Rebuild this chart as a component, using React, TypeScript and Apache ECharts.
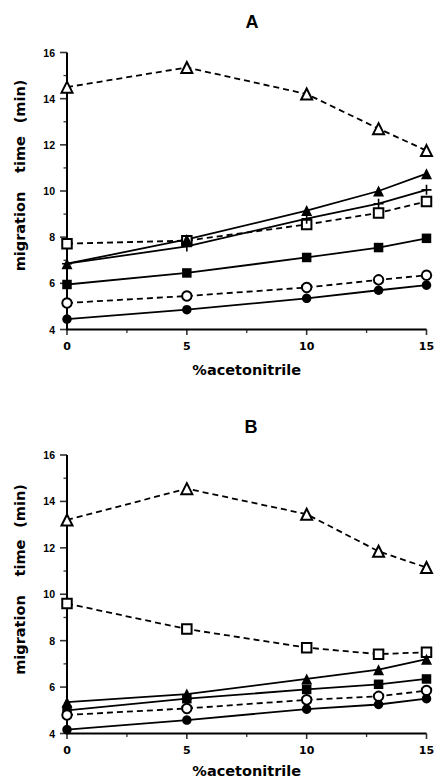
import React, { useEffect, useRef } from "react";
import * as echarts from "echarts";

const acetonitrile = [0, 5, 10, 13, 15];

// Panel A
const openTriA = [14.5, 15.35, 14.2, 12.7, 11.75];
const filledTriA = [6.85, 7.9, 9.15, 10.0, 10.75];
const plusA = [6.85, 7.6, 8.8, 9.45, 10.05];
const openSqA = [7.72, 7.85, 8.55, 9.05, 9.55];
const filledSqA = [5.95, 6.45, 7.12, 7.55, 7.95];
const openCircA = [5.15, 5.45, 5.82, 6.15, 6.35];
const filledCircA = [4.45, 4.86, 5.35, 5.7, 5.92];

// Panel B
const openTriB = [13.2, 14.55, 13.45, 11.85, 11.15];
const openSqB = [9.6, 8.5, 7.7, 7.42, 7.5];
const filledTriB = [5.35, 5.7, 6.35, 6.75, 7.2];
const filledSqB = [5.0, 5.5, 5.9, 6.12, 6.35];
const openCircB = [4.8, 5.08, 5.45, 5.6, 5.85];
const filledCircB = [4.17, 4.58, 5.05, 5.25, 5.5];

// Axis ticks
const xTicks = [0, 5, 10, 15];
const xMinorTicks = [2.5, 7.5, 12.5];
const yTicks = [4, 6, 8, 10, 12, 14, 16];
const yMinorTicks = [5, 7, 9, 11, 13, 15];
const xRange = [0, 15];
const yRange = [4, 16];

const panelTitles = ["A", "B"];
const xTitle = "%acetonitrile";
const yTitleWords = ["migration", "time", "(min)"];

const PLUS = "path://M4.2,0H5.8V4.2H10V5.8H5.8V10H4.2V5.8H0V4.2H4.2Z";

type Kind = "openTri" | "filledTri" | "plus" | "openSq" | "filledSq" | "openCirc" | "filledCirc";

function makeSeries(kind: Kind, values: number[], idx: number) {
  const dashed = kind === "openTri" || kind === "openSq" || kind === "openCirc";
  let symbol = "circle";
  let size = 9.5;
  if (kind === "openTri" || kind === "filledTri") { symbol = "triangle"; size = 11; }
  if (kind === "openSq" || kind === "filledSq") { symbol = "rect"; size = 9.5; }
  if (kind === "plus") { symbol = PLUS; size = 10; }
  return {
    type: "line",
    xAxisIndex: idx,
    yAxisIndex: idx,
    data: acetonitrile.map((x, i) => [x, values[i]]),
    symbol,
    symbolSize: size,
    silent: true,
    lineStyle: { color: "#000", width: 1.8, type: dashed ? [6, 4] : "solid" },
    itemStyle: dashed
      ? { color: "#fff", borderColor: "#000", borderWidth: 2 }
      : { color: "#000" },
  };
}

// Axis frame drawn through the axes' own scales
function axisSeries(idx: number) {
  const base = { xAxisIndex: idx, yAxisIndex: idx, silent: true, clip: false };
  return [
    {
      ...base,
      type: "line",
      data: [[xRange[0], yRange[1]], [xRange[0], yRange[0]], [xRange[1], yRange[0]]],
      symbol: "none",
      lineStyle: { color: "#000", width: 2 },
    },
    {
      ...base,
      type: "scatter",
      data: yTicks.map((v) => [xRange[0], v]),
      symbol: "rect",
      symbolSize: [7, 1.6],
      symbolOffset: [-3.5, 0],
      itemStyle: { color: "#000" },
    },
    {
      ...base,
      type: "scatter",
      data: yMinorTicks.map((v) => [xRange[0], v]),
      symbol: "rect",
      symbolSize: [3.5, 1.3],
      symbolOffset: [-1.75, 0],
      itemStyle: { color: "#000" },
    },
    {
      ...base,
      type: "scatter",
      data: xTicks.map((v) => [v, yRange[0]]),
      symbol: "rect",
      symbolSize: [1.6, 5.5],
      symbolOffset: [0, 2.75],
      itemStyle: { color: "#000" },
    },
    {
      ...base,
      type: "scatter",
      data: xMinorTicks.map((v) => [v, yRange[0]]),
      symbol: "rect",
      symbolSize: [1.3, 3.5],
      symbolOffset: [0, 1.75],
      itemStyle: { color: "#000" },
    },
  ];
}

function xAxis(idx: number, gap: number) {
  return {
    type: "value",
    gridIndex: idx,
    min: xRange[0],
    max: xRange[1],
    interval: 5,
    axisLine: { show: false, onZero: false },
    axisTick: { show: false },
    minorTick: { show: false },
    splitLine: { show: false },
    axisLabel: { color: "#000", fontFamily: "DejaVu Sans", fontWeight: "bold", fontSize: 11, margin: 11 },
    name: xTitle,
    nameLocation: "middle",
    nameGap: gap,
    nameTextStyle: { color: "#000", fontFamily: "DejaVu Sans", fontWeight: "bold", fontSize: 14.5 },
  };
}

function yAxis(idx: number) {
  return {
    type: "value",
    gridIndex: idx,
    min: yRange[0],
    max: yRange[1],
    interval: 2,
    axisLine: { show: false, onZero: false },
    axisTick: { show: false },
    minorTick: { show: false },
    splitLine: { show: false },
    axisLabel: { color: "#000", fontFamily: "Liberation Sans", fontWeight: "bold", fontSize: 10.5, margin: 12 },
  };
}

function yTitle(centers: number[]) {
  return yTitleWords.map((w, i) => ({
    type: "text",
    x: 20,
    y: centers[i],
    rotation: Math.PI / 2,
    style: { text: w, fill: "#000", font: "bold 14.5px 'DejaVu Sans'", textAlign: "center", textVerticalAlign: "middle" },
  }));
}

export default function App() {
  const ref = useRef<HTMLDivElement>(null);
  useEffect(() => {
    if (!ref.current) return;
    const chart = echarts.init(ref.current, undefined, { renderer: "svg" });
    chart.setOption({
      animation: false,
      grid: [
        { left: 67, right: 10.5, top: 52.5, height: 277, outerBoundsMode: "none" },
        { left: 67, right: 10.5, top: 455, height: 278.5, outerBoundsMode: "none" },
      ],
      xAxis: [xAxis(0, 32.5), xAxis(1, 30)],
      yAxis: [yAxis(0), yAxis(1)],
      graphic: [
        { type: "text", x: 252, y: 22, style: { text: panelTitles[0], fill: "#000", font: "bold 18px 'Liberation Sans'", textAlign: "center", textVerticalAlign: "middle" } },
        { type: "text", x: 251, y: 426.5, style: { text: panelTitles[1], fill: "#000", font: "bold 18px 'Liberation Sans'", textAlign: "center", textVerticalAlign: "middle" } },
        ...yTitle([231.5, 154.5, 101.5]),
        ...yTitle([635, 558, 506]),
      ],
      series: [
        ...axisSeries(0),
        ...axisSeries(1),
        makeSeries("openTri", openTriA, 0),
        makeSeries("openSq", openSqA, 0),
        makeSeries("plus", plusA, 0),
        makeSeries("filledTri", filledTriA, 0),
        makeSeries("filledSq", filledSqA, 0),
        makeSeries("openCirc", openCircA, 0),
        makeSeries("filledCirc", filledCircA, 0),
        makeSeries("openTri", openTriB, 1),
        makeSeries("openSq", openSqB, 1),
        makeSeries("filledTri", filledTriB, 1),
        makeSeries("filledSq", filledSqB, 1),
        makeSeries("openCirc", openCircB, 1),
        makeSeries("filledCirc", filledCircB, 1),
      ],
    });
    return () => chart.dispose();
  }, []);
  return (
    <div ref={ref} style={{ position: "absolute", left: 0, top: 0, width: 437, height: 780, background: "#fff" }} />
  );
}
